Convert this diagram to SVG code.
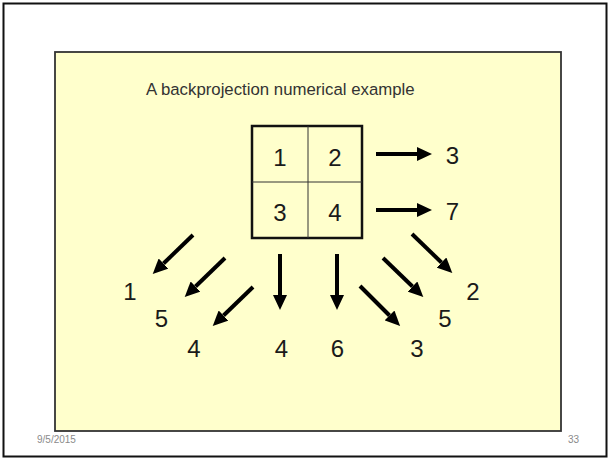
<svg xmlns="http://www.w3.org/2000/svg" width="609" height="459" viewBox="0 0 609 459">
<style>
.num{font-family:"Liberation Sans",Arial,sans-serif;font-size:24px;fill:#1a1a1a;text-anchor:middle}
.title{font-family:"Liberation Sans",Arial,sans-serif;font-size:16.8px;fill:#333}
.foot{font-family:"Liberation Sans",Arial,sans-serif;font-size:10px;fill:#8a8a8a}
.arr{stroke:#000;stroke-width:4;fill:none;marker-end:url(#ah)}
</style>
<defs>
<marker id="ah" markerUnits="userSpaceOnUse" markerWidth="15" markerHeight="14" refX="0" refY="7" orient="auto">
<path d="M0,0 L15,7 L0,14 z" fill="#000"/>
</marker>
</defs>
<rect x="0" y="0" width="609" height="459" fill="#fff"/>
<rect x="3.5" y="3.5" width="603" height="453" fill="none" stroke="#111" stroke-width="2"/>
<rect id="panel" x="55" y="52" width="506" height="379" fill="#ffffcc" stroke="#333" stroke-width="1.8"/>
<text class="title" x="146" y="95">A backprojection numerical example</text>
<g id="grid">
<rect x="252" y="126" width="110" height="112" fill="none" stroke="#111" stroke-width="2.5"/>
<line x1="308" y1="126" x2="308" y2="238" stroke="#333" stroke-width="1"/>
<line x1="252" y1="182" x2="362" y2="182" stroke="#333" stroke-width="1"/>
<text class="num" x="280" y="166">1</text>
<text class="num" x="335" y="166">2</text>
<text class="num" x="280" y="221">3</text>
<text class="num" x="335" y="221">4</text>
</g>
<g id="connectors">
<line class="arr" x1="376" y1="154" x2="417" y2="154"/>
<line class="arr" x1="376" y1="210" x2="417" y2="210"/>
<line class="arr" x1="193" y1="235" x2="163.5" y2="263.5"/>
<line class="arr" x1="225" y1="258" x2="195.5" y2="286.5"/>
<line class="arr" x1="253" y1="287" x2="223.5" y2="315.5"/>
<line class="arr" x1="280" y1="254" x2="280" y2="295"/>
<line class="arr" x1="337" y1="254" x2="337" y2="295"/>
<line class="arr" x1="412" y1="234" x2="441.5" y2="262.5"/>
<line class="arr" x1="383" y1="258" x2="412.5" y2="286.5"/>
<line class="arr" x1="360" y1="286" x2="389.5" y2="315.5"/>
</g>
<g id="labels">
<text class="num" x="452.5" y="164">3</text>
<text class="num" x="452.5" y="220">7</text>
<text class="num" x="130" y="300">1</text>
<text class="num" x="161.5" y="327">5</text>
<text class="num" x="194" y="357">4</text>
<text class="num" x="281.5" y="357">4</text>
<text class="num" x="337.5" y="357">6</text>
<text class="num" x="417" y="357">3</text>
<text class="num" x="445" y="327">5</text>
<text class="num" x="473" y="300">2</text>
</g>
<text class="foot" x="37" y="443">9/5/2015</text>
<text class="foot" x="568" y="443">33</text>
</svg>
